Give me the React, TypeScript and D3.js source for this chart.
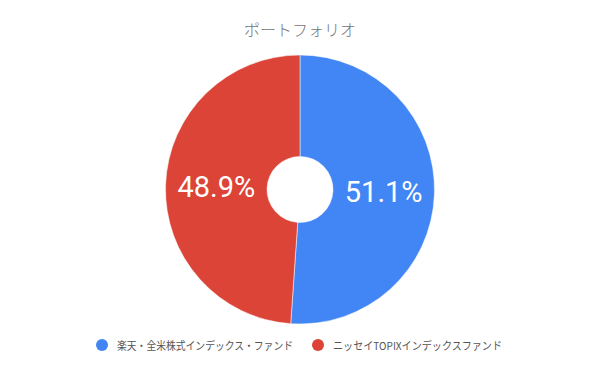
import React, { useEffect, useRef } from 'react';
import * as d3 from 'd3';

const title = 'ポートフォリオ';
const funds = ['楽天・全米株式インデックス・ファンド', 'ニッセイTOPIXインデックスファンド'];
const shares = [51.1, 48.9];
const colors = ['#4285F4', '#DB4437'];

const App = () => {
  const svgRef = useRef<SVGSVGElement>(null);

  useEffect(() => {
    const width = 600;
    const height = 371;
    const cx = 300;
    const cy = 189.5;
    const outer = 134.5;
    const inner = 33;

    const svg = d3.select(svgRef.current);
    svg.selectAll('*').remove();
    svg.attr('width', width).attr('height', height);

    svg.append('rect').attr('width', width).attr('height', height).attr('fill', '#fff');

    svg.append('text')
      .attr('x', cx)
      .attr('y', 36)
      .attr('text-anchor', 'middle')
      .attr('font-family', '"Noto Sans CJK JP", sans-serif')
      .attr('font-size', 16)
      .attr('font-weight', 300)
      .attr('fill', '#757575')
      .text(title);

    const data = funds.map((name, i) => ({ name, value: shares[i], color: colors[i] }));
    const pie = d3.pie<any>().value(d => d.value).sort(null);
    const arc = d3.arc<any>().innerRadius(inner).outerRadius(outer);
    const arcs = pie(data);

    const g = svg.append('g').attr('transform', `translate(${cx},${cy})`);

    g.selectAll('path')
      .data(arcs)
      .enter().append('path')
      .attr('d', arc)
      .attr('fill', d => d.data.color)
      .attr('stroke', '#fff')
      .attr('stroke-width', 0.5);

    g.selectAll('text')
      .data(arcs)
      .enter().append('text')
      .attr('transform', d => `translate(${arc.centroid(d)})`)
      .attr('text-anchor', 'middle')
      .attr('dominant-baseline', 'central')
      .attr('font-family', 'Roboto, sans-serif')
      .attr('font-size', 29)
      .attr('fill', '#fff')
      .text(d => `${d.data.value.toFixed(1)}%`);

    // legend: dot + label, label widths squeezed to match the original
    const legendX = [102, 318];
    const legendW = [176, 169];
    const legend = svg.append('g');
    data.forEach((d, i) => {
      legend.append('circle')
        .attr('cx', legendX[i])
        .attr('cy', 345)
        .attr('r', 6)
        .attr('fill', d.color);
      legend.append('text')
        .attr('x', legendX[i] + 15)
        .attr('y', 345)
        .attr('dominant-baseline', 'central')
        .attr('font-family', '"Noto Sans CJK JP", sans-serif')
        .attr('font-size', 11)
        .attr('textLength', legendW[i])
        .attr('lengthAdjust', 'spacingAndGlyphs')
        .attr('fill', '#555')
        .text(d.name);
    });
  }, []);

  return <svg ref={svgRef} style={{ position: 'absolute', left: 0, top: 0 }}></svg>;
};

export default App;
